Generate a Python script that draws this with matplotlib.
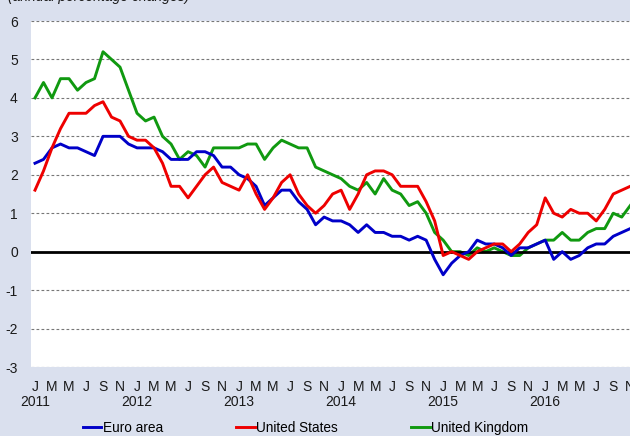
import matplotlib
matplotlib.use('Agg')
import matplotlib.pyplot as plt
import matplotlib.transforms as mtransforms

plt.rcParams['font.family'] = ['Liberation Sans', 'DejaVu Sans']

# monthly, Jan 2011 - Nov 2016 (annual percentage changes)
euro_area = [2.3, 2.4, 2.7, 2.8, 2.7, 2.7, 2.6, 2.5, 3.0, 3.0, 3.0, 2.8,
             2.7, 2.7, 2.7, 2.6, 2.4, 2.4, 2.4, 2.6, 2.6, 2.5, 2.2, 2.2,
             2.0, 1.9, 1.7, 1.2, 1.4, 1.6, 1.6, 1.3, 1.1, 0.7, 0.9, 0.8,
             0.8, 0.7, 0.5, 0.7, 0.5, 0.5, 0.4, 0.4, 0.3, 0.4, 0.3, -0.2,
             -0.6, -0.3, -0.1, 0.0, 0.3, 0.2, 0.2, 0.1, -0.1, 0.1, 0.1, 0.2,
             0.3, -0.2, 0.0, -0.2, -0.1, 0.1, 0.2, 0.2, 0.4, 0.5, 0.6]
united_states = [1.6, 2.1, 2.7, 3.2, 3.6, 3.6, 3.6, 3.8, 3.9, 3.5, 3.4, 3.0,
                 2.9, 2.9, 2.7, 2.3, 1.7, 1.7, 1.4, 1.7, 2.0, 2.2, 1.8, 1.7,
                 1.6, 2.0, 1.5, 1.1, 1.4, 1.8, 2.0, 1.5, 1.2, 1.0, 1.2, 1.5,
                 1.6, 1.1, 1.5, 2.0, 2.1, 2.1, 2.0, 1.7, 1.7, 1.7, 1.3, 0.8,
                 -0.1, 0.0, -0.1, -0.2, 0.0, 0.1, 0.2, 0.2, 0.0, 0.2, 0.5, 0.7,
                 1.4, 1.0, 0.9, 1.1, 1.0, 1.0, 0.8, 1.1, 1.5, 1.6, 1.7]
united_kingdom = [4.0, 4.4, 4.0, 4.5, 4.5, 4.2, 4.4, 4.5, 5.2, 5.0, 4.8, 4.2,
                  3.6, 3.4, 3.5, 3.0, 2.8, 2.4, 2.6, 2.5, 2.2, 2.7, 2.7, 2.7,
                  2.7, 2.8, 2.8, 2.4, 2.7, 2.9, 2.8, 2.7, 2.7, 2.2, 2.1, 2.0,
                  1.9, 1.7, 1.6, 1.8, 1.5, 1.9, 1.6, 1.5, 1.2, 1.3, 1.0, 0.5,
                  0.3, 0.0, 0.0, -0.1, 0.1, 0.0, 0.1, 0.0, -0.1, -0.1, 0.1, 0.2,
                  0.3, 0.3, 0.5, 0.3, 0.3, 0.5, 0.6, 0.6, 1.0, 0.9, 1.2]
month_letters = ['J', 'M', 'M', 'J', 'S', 'N']
years = ['2011', '2012', '2013', '2014', '2015', '2016']

bg = '#dae0ee'
fs = 10
fig = plt.figure(figsize=(6.3, 4.36), dpi=100, facecolor=bg)
ax = fig.add_axes([31 / 630, 69 / 436, 612 / 630, 346 / 436])
ax.set_facecolor('white')

x = list(range(len(euro_area)))
ax.plot(x, euro_area, color='#0000c8', lw=2.1, label='Euro area', zorder=3)
ax.plot(x, united_states, color='#ee0000', lw=2.1, label='United States', zorder=4)
ax.plot(x, united_kingdom, color='#109910', lw=2.1, label='United Kingdom', zorder=2)

for v in [-3, -2, -1, 1, 2, 3, 4, 5, 6]:
    ax.axhline(v, color='#777777', lw=0.8, ls=(0, (2.5, 2)), zorder=1)
ax.axhline(0, color='black', lw=2, zorder=2)

ax.set_xlim(-0.47, 71.5)
ax.set_ylim(-3, 6)
ax.set_yticks(range(-3, 7))
ax.set_yticklabels([str(v) for v in range(-3, 7)])

ticks = list(range(0, 72, 2))
ax.set_xticks(ticks)
ax.set_xticklabels([month_letters[(t % 12) // 2] for t in ticks])
ax.tick_params(length=0, labelsize=fs, colors='#1a1a1a')
ax.tick_params(axis='y', pad=9.5)
ax.tick_params(axis='x', pad=9)

trans = mtransforms.blended_transform_factory(ax.transData, ax.transAxes)
for i, yr in enumerate(years):
    ax.text(i * 12, -0.082, yr, transform=trans, ha='center', va='top',
            fontsize=fs, color='#1a1a1a')

for s in ax.spines.values():
    s.set_visible(False)

fig.text(8 / 630, 1 - 1.5 / 436, '(annual percentage changes)', style='italic',
         fontsize=fs, ha='left', va='baseline', color='#1a1a1a')

fig.legend(loc='center left', bbox_to_anchor=(83 / 630, 8 / 436), ncol=3,
           frameon=False, fontsize=9.8, handlelength=1.35, handletextpad=0.1,
           columnspacing=5.4, borderpad=0, borderaxespad=0)

fig.savefig('out.png', dpi=100, facecolor=bg)
